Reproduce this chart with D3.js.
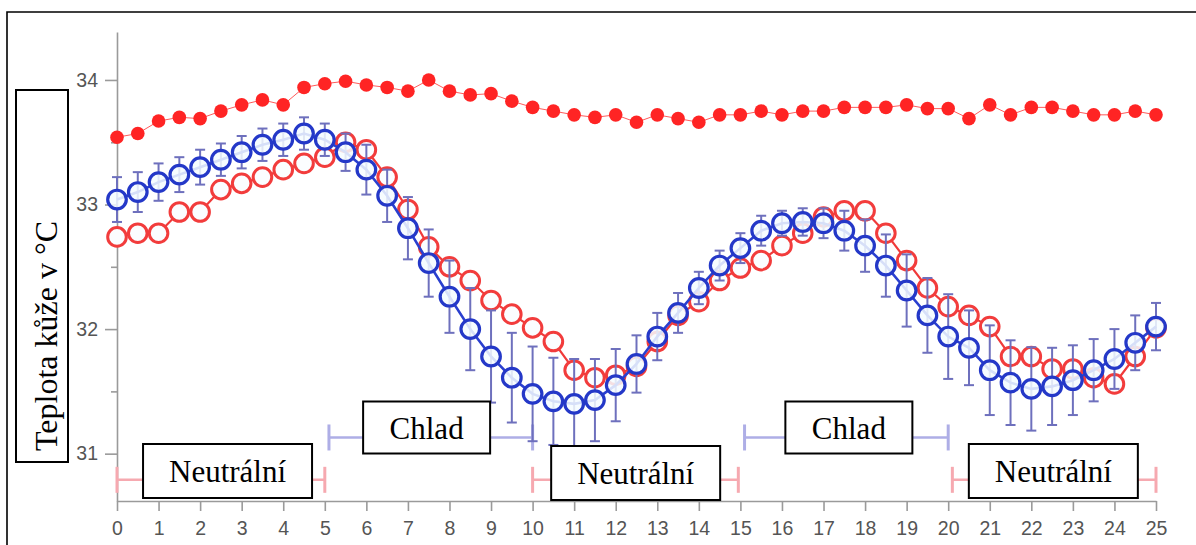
<!DOCTYPE html>
<html><head><meta charset="utf-8">
<script src="https://cdn.jsdelivr.net/npm/d3@7"></script>
<style>body{margin:0;background:#fff} svg{display:block}</style>
</head><body>
<svg id="c" width="1196" height="545"></svg>
<script>
// ---------- data ----------
const time = [0,0.5,1,1.5,2,2.5,3,3.5,4,4.5,5,5.5,6,6.5,7,7.5,8,8.5,9,9.5,10,10.5,11,11.5,12,12.5,13,13.5,14,14.5,15,15.5,16,16.5,17,17.5,18,18.5,19,19.5,20,20.5,21,21.5,22,22.5,23,23.5,24,24.5,25];
const seriesFilledRed = [33.54,33.57,33.67,33.70,33.69,33.75,33.80,33.84,33.80,33.94,33.97,33.99,33.96,33.94,33.91,34.00,33.91,33.88,33.89,33.83,33.78,33.75,33.72,33.70,33.72,33.66,33.72,33.69,33.66,33.72,33.72,33.75,33.72,33.75,33.75,33.78,33.78,33.78,33.80,33.77,33.77,33.69,33.80,33.72,33.78,33.78,33.75,33.72,33.72,33.75,33.72];
const seriesBlue = [33.04,33.10,33.18,33.24,33.30,33.36,33.42,33.48,33.52,33.57,33.52,33.42,33.28,33.07,32.81,32.53,32.26,32.00,31.78,31.61,31.48,31.42,31.40,31.43,31.55,31.72,31.94,32.13,32.33,32.51,32.65,32.79,32.85,32.86,32.85,32.79,32.67,32.51,32.31,32.11,31.94,31.85,31.67,31.57,31.52,31.54,31.59,31.67,31.76,31.89,32.02];
const seriesBlueErr = [0.18,0.16,0.15,0.14,0.14,0.13,0.13,0.13,0.13,0.13,0.13,0.15,0.20,0.21,0.25,0.27,0.29,0.33,0.37,0.36,0.38,0.35,0.36,0.33,0.29,0.23,0.19,0.16,0.13,0.12,0.12,0.12,0.10,0.11,0.12,0.16,0.21,0.25,0.29,0.30,0.34,0.30,0.36,0.34,0.335,0.31,0.28,0.25,0.24,0.22,0.19];
const seriesOpenRed = [32.74,32.77,32.77,32.94,32.94,33.12,33.17,33.22,33.28,33.33,33.38,33.50,33.44,33.22,32.96,32.66,32.50,32.39,32.23,32.12,32.01,31.90,31.67,31.61,31.63,31.70,31.90,32.11,32.22,32.39,32.49,32.55,32.67,32.77,32.90,32.95,32.95,32.77,32.55,32.33,32.18,32.11,32.02,31.78,31.78,31.68,31.68,31.61,31.56,31.78,32.01];
const xTickValues = [0,1,2,3,4,5,6,7,8,9,10,11,12,13,14,15,16,17,18,19,20,21,22,23,24,25];
const yTickValues = [31,32,33,34];
const yMinorTickValues = [31.5,32.5,33.5];
const phaseNames = ["Neutrální","Chlad","Neutrální","Chlad","Neutrální"];
const phaseKind  = ["n","c","n","c","n"];
const phaseStart = [0,5.1,10,15.1,20.1];
const phaseEnd   = [5,10,14.95,20,25];
const phaseLabelAt = [2.66,7.45,12.48,17.61,22.53];
const yAxisTitle = "Teplota kůže v °C";

// ---------- layout ----------
const svg = d3.select("#c");
const x = d3.scaleLinear().domain([0,25]).range([117,1156]);
const y = d3.scaleLinear().domain([30.62,34.385]).range([501,32]);

// outer frame (top + left)
svg.append("path").attr("d","M7,545 L7,12 L1196,12").attr("fill","none").attr("stroke","#000").attr("stroke-width",1.6);

// axes
const axisColor = "#9a9a9a";
const gx = svg.append("g").attr("transform",`translate(0,${y(30.62)})`)
  .call(d3.axisBottom(x).tickValues(xTickValues).tickFormat(d3.format("d")).tickSize(10).tickSizeOuter(0).tickPadding(10));
const gy = svg.append("g").attr("transform",`translate(${x(0)},0)`)
  .call(d3.axisLeft(y).tickValues(yTickValues).tickFormat(d3.format("d")).tickSize(12).tickSizeOuter(0).tickPadding(7));
const gym = svg.append("g").attr("transform",`translate(${x(0)},0)`)
  .call(d3.axisLeft(y).tickValues(yMinorTickValues).tickSize(6).tickFormat(""));
gym.select(".domain").remove();
[gx,gy,gym].forEach(g=>{
  g.selectAll(".domain,line").attr("stroke",axisColor).attr("stroke-width",1.6);
  g.selectAll("text").attr("fill","#555").attr("font-family","'Liberation Sans',Arial,sans-serif").attr("font-size",19.5);
});

// phase interval bars
const phaseColor = k => k==="n" ? "#f6a9b0" : "#aeaee6";
const phaseY = k => k==="n" ? y(30.79) : y(31.13);
const pg = svg.append("g");
phaseNames.forEach((nm,i)=>{
  const k = phaseKind[i], yy = phaseY(k), c = phaseColor(k);
  pg.append("line").attr("x1",x(phaseStart[i])).attr("x2",x(phaseEnd[i])).attr("y1",yy).attr("y2",yy).attr("stroke",c).attr("stroke-width",2.5);
  [phaseStart[i],phaseEnd[i]].forEach(v=>{
    pg.append("line").attr("x1",x(v)).attr("x2",x(v)).attr("y1",yy-13).attr("y2",yy+13).attr("stroke",c).attr("stroke-width",3);
  });
});

// red filled series
const lineF = d3.line().x((d,i)=>x(time[i])).y(d=>y(d));
svg.append("path").datum(seriesFilledRed).attr("d",lineF).attr("fill","none").attr("stroke","#ff5a5a").attr("stroke-width",1);
svg.append("g").selectAll("circle").data(seriesFilledRed).join("circle")
  .attr("cx",(d,i)=>x(time[i])).attr("cy",d=>y(d)).attr("r",6.8).attr("fill","#ff2424");

// red open series
svg.append("path").datum(seriesOpenRed).attr("d",lineF).attr("fill","none").attr("stroke","#f03a3a").attr("stroke-width",2.2);
svg.append("g").selectAll("circle").data(seriesOpenRed).join("circle")
  .attr("cx",(d,i)=>x(time[i])).attr("cy",d=>y(d)).attr("r",9.3)
  .attr("fill","#fbfdff").attr("stroke","#f23c3c").attr("stroke-width",3);

// blue error bars
const eg = svg.append("g").attr("stroke","#6e70bd").attr("stroke-width",2);
seriesBlue.forEach((v,i)=>{
  const cx = x(time[i]), e = seriesBlueErr[i];
  eg.append("line").attr("x1",cx).attr("x2",cx).attr("y1",y(v+e)).attr("y2",y(v-e));
  eg.append("line").attr("x1",cx-5).attr("x2",cx+5).attr("y1",y(v+e)).attr("y2",y(v+e));
  eg.append("line").attr("x1",cx-5).attr("x2",cx+5).attr("y1",y(v-e)).attr("y2",y(v-e));
});

// blue series
svg.append("path").datum(seriesBlue).attr("d",lineF).attr("fill","none").attr("stroke","#2a3fcf").attr("stroke-width",2.6);
svg.append("g").selectAll("circle").data(seriesBlue).join("circle")
  .attr("cx",(d,i)=>x(time[i])).attr("cy",d=>y(d)).attr("r",9.3)
  .attr("fill","#f4fbff").attr("fill-opacity",0.85).attr("stroke","#2438c8").attr("stroke-width",3.2);

// phase label boxes
const lg = svg.append("g");
phaseNames.forEach((nm,i)=>{
  const k = phaseKind[i];
  const w = k==="n" ? 169 : 127, h = k==="n" ? 54 : 52;
  const cy = k==="n" ? (i===2 ? 473 : 471) : 427.5;
  const cx = x(phaseLabelAt[i]);
  lg.append("rect").attr("x",cx-w/2).attr("y",cy-h/2).attr("width",w).attr("height",h)
    .attr("fill","#fff").attr("stroke","#000").attr("stroke-width",2);
  lg.append("text").attr("x",cx).attr("y",cy).attr("dy","0.36em").attr("text-anchor","middle")
    .attr("font-family","'Liberation Serif','Times New Roman',serif").attr("font-size",31).text(nm);
});

// y-axis title box
svg.append("rect").attr("x",16).attr("y",90).attr("width",52).attr("height",372)
  .attr("fill","#fff").attr("stroke","#000").attr("stroke-width",2);
svg.append("text").attr("transform","translate(57,451) rotate(-90)")
  .attr("font-family","'Liberation Serif','Times New Roman',serif").attr("font-size",32).text(yAxisTitle);
</script>
</body></html>
